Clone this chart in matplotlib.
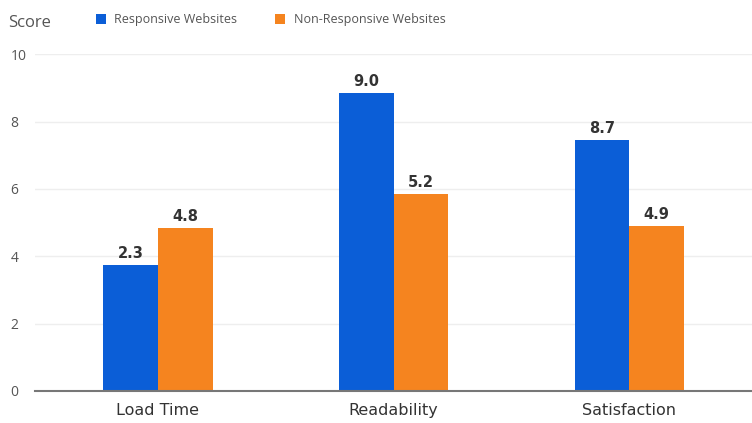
import matplotlib.pyplot as plt
import numpy as np

categories = ["Load Time", "Readability", "Satisfaction"]
responsive = [3.75, 8.85, 7.45]
non_responsive = [4.85, 5.85, 4.9]
responsive_labels = ["2.3", "9.0", "8.7"]
non_responsive_labels = ["4.8", "5.2", "4.9"]
yticks = [0, 2, 4, 6, 8, 10]

blue = "#0b5ed7"
orange = "#f5841f"

plt.rcParams["font.family"] = ["Open Sans", "DejaVu Sans"]

fig = plt.figure(figsize=(7.52, 4.23), dpi=100)
ax = fig.add_axes([0.047, 0.0757, 0.953, 0.7963])

x = np.arange(len(categories))
w = 0.232
b1 = ax.bar(x - w / 2, responsive, w, color=blue, label="Responsive Websites", zorder=3)
b2 = ax.bar(x + w / 2, non_responsive, w, color=orange, label="Non-Responsive Websites", zorder=3)

for bars, labels in [(b1, responsive_labels), (b2, non_responsive_labels)]:
    for bar, lab in zip(bars, labels):
        ax.text(bar.get_x() + bar.get_width() / 2, bar.get_height() + 0.12, lab,
                ha="center", va="bottom", fontsize=10.5, fontweight="bold",
                color="#333333", family="DejaVu Sans")

ax.set_xlim(-0.52, 2.52)
ax.set_ylim(0, 10)
ax.set_yticks(yticks)
ax.set_xticks(x)
ax.set_xticklabels(categories, fontsize=11.5, color="#333333", family="DejaVu Sans")
ax.tick_params(axis="y", length=0, labelsize=10, labelcolor="#555555", pad=18)
ax.tick_params(axis="x", length=0, pad=9)
for lab in ax.get_yticklabels():
    lab.set_horizontalalignment("left")

ax.grid(axis="y", color="#eeeeee", linewidth=1, zorder=0)
for s in ["top", "right", "left"]:
    ax.spines[s].set_visible(False)
ax.spines["bottom"].set_color("#777777")
ax.spines["bottom"].set_linewidth(1.5)
ax.spines["bottom"].set_zorder(4)

fig.text(0.011, 0.945, "Score", fontsize=12, color="#555555", va="center")
fig.legend(handles=[b1, b2], loc="center left", bbox_to_anchor=(0.127, 0.953), ncol=2,
           frameon=False, fontsize=9, handlelength=0.8, handleheight=0.8,
           columnspacing=3.0, handletextpad=0.7, labelcolor="#555555", borderpad=0,
           borderaxespad=0)

fig.savefig("out.png", dpi=100)
